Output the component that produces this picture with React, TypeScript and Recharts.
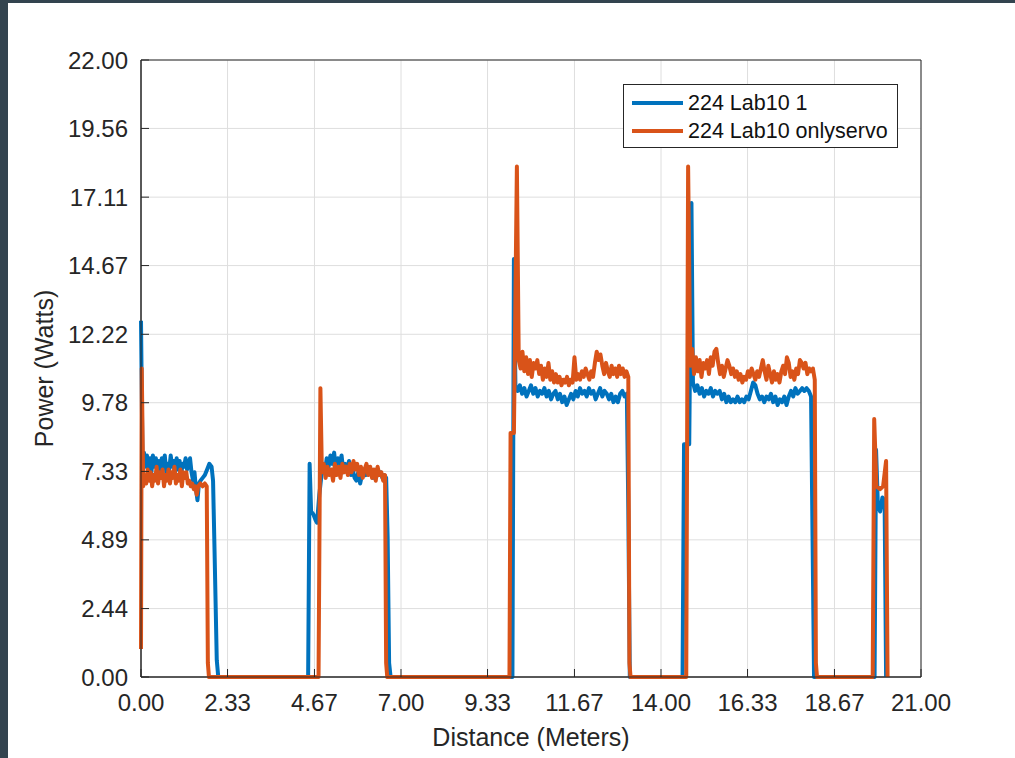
import { LineChart, Line, XAxis, YAxis, CartesianGrid, Legend, ReferenceArea } from 'recharts';

// distance (m) / power (W) samples
const blueDist = [
  0, 0.04, 0.08, 0.12, 0.16, 0.2, 0.24, 0.28, 0.32, 0.36, 0.4, 0.44, 0.48, 0.52, 0.56, 0.6, 0.64, 0.68, 0.72, 0.76,
  0.8, 0.84, 0.88, 0.92, 0.96, 1.0, 1.04, 1.08, 1.12, 1.16, 1.2, 1.24, 1.28, 1.32, 1.36, 1.4, 1.44, 1.48, 1.52, 1.56,
  1.6, 1.66, 1.72, 1.78, 1.84, 1.9, 1.94, 1.98, 2.04, 2.08,
  4.5, 4.54, 4.58, 4.64, 4.7, 4.74, 4.8, 4.86, 4.9, 4.95, 5.0, 5.05, 5.1, 5.15, 5.2, 5.25, 5.3, 5.35, 5.4, 5.45,
  5.5, 5.55, 5.6, 5.65, 5.7, 5.75, 5.8, 5.85, 5.9, 5.95, 6.0, 6.05, 6.1, 6.15, 6.2, 6.25, 6.3, 6.35, 6.4, 6.45,
  6.5, 6.55, 6.6, 6.64, 6.68, 6.72,
  10.0, 10.04, 10.08, 10.14, 10.2, 10.26, 10.32, 10.38, 10.44, 10.5, 10.56, 10.62, 10.68, 10.74, 10.8, 10.86, 10.92,
  10.98, 11.04, 11.1, 11.16, 11.22, 11.28, 11.34, 11.4, 11.46, 11.52, 11.58, 11.64, 11.7, 11.76, 11.82, 11.88, 11.94,
  12.0, 12.06, 12.12, 12.18, 12.24, 12.3, 12.36, 12.42, 12.48, 12.54, 12.6, 12.66, 12.72, 12.78, 12.84, 12.9, 12.96,
  13.02, 13.08, 13.12, 13.16,
  14.58, 14.62, 14.76, 14.82, 14.86, 14.92, 14.98, 15.04, 15.1, 15.16, 15.22, 15.28, 15.34, 15.4, 15.46, 15.52, 15.58,
  15.64, 15.7, 15.76, 15.82, 15.88, 15.94, 16.0, 16.06, 16.12, 16.18, 16.24, 16.3, 16.36, 16.42, 16.48, 16.54, 16.6,
  16.66, 16.72, 16.78, 16.84, 16.9, 16.96, 17.02, 17.08, 17.14, 17.2, 17.26, 17.32, 17.38, 17.44, 17.5, 17.56, 17.62,
  17.68, 17.74, 17.8, 17.86, 17.92, 17.98, 18.04, 18.08, 18.12,
  19.75, 19.79, 19.84, 19.9, 19.96, 20.02, 20.06,
];
const bluePower = [
  12.7, 7.7, 8.0, 7.5, 7.9, 7.4, 7.8, 7.3, 7.9, 7.5, 7.8, 7.4, 7.7, 7.2, 7.8, 7.5, 7.9, 7.3, 7.6, 7.4,
  7.9, 7.5, 7.7, 7.3, 7.8, 7.4, 7.7, 7.2, 7.6, 7.5, 7.8, 7.4, 7.6, 7.8, 7.3, 7.0, 7.3, 6.7, 6.3, 6.9,
  7.0, 7.1, 7.2, 7.4, 7.6, 7.5, 7.0, 4.5, 0.6, 0,
  0, 7.6, 5.9, 5.8, 5.6, 5.5, 6.5, 7.2, 7.6, 7.3, 7.8, 7.5, 7.9, 7.6, 8.0, 7.4, 7.8, 7.5, 7.9, 7.3,
  7.6, 7.4, 7.7, 7.2, 7.4, 7.1, 7.0, 7.3, 6.9, 7.2, 7.4, 7.2, 7.5, 7.3, 7.4, 7.1, 7.3, 7.4, 7.2, 7.3,
  7.1, 7.2, 7.1, 5.0, 0.5, 0,
  0, 14.9, 10.4, 10.2, 10.4, 10.1, 10.3, 10.0, 10.2, 10.4, 10.1, 10.3, 10.0, 10.2, 10.1, 10.3, 10.0,
  10.2, 9.9, 10.1, 10.2, 9.9, 10.1, 9.8, 10.0, 9.7, 9.9, 10.1, 9.9, 10.2, 10.0, 10.3, 10.1, 10.2,
  10.0, 10.3, 10.1, 10.2, 9.9, 10.1, 10.3, 10.0, 10.2, 10.1, 9.9, 10.1, 9.8, 10.0, 9.8, 10.1, 10.2,
  10.0, 10.1, 6.0, 0,
  0, 8.3, 8.3, 16.9, 10.5, 10.2, 10.4, 10.1, 10.3, 10.0, 10.2, 10.1, 10.3, 10.0, 10.2, 10.1, 10.2,
  9.9, 10.1, 9.8, 10.0, 9.8, 9.9, 9.8, 10.0, 9.8, 9.9, 9.8, 10.0, 9.9, 10.2, 10.5, 10.4, 10.1,
  9.9, 10.0, 9.8, 10.0, 9.9, 10.1, 9.8, 10.0, 9.7, 9.9, 9.8, 10.0, 9.7, 10.0, 10.2, 10.0, 10.3,
  10.1, 10.2, 10.3, 10.2, 10.3, 10.2, 10.0, 5.0, 0,
  0, 8.1, 6.1, 5.9, 6.4, 6.3, 0,
];

const orangeDist = [
  0, 0.02, 0.06, 0.1, 0.14, 0.18, 0.22, 0.26, 0.3, 0.34, 0.38, 0.42, 0.46, 0.5, 0.54, 0.58, 0.62, 0.66, 0.7, 0.74,
  0.78, 0.82, 0.86, 0.9, 0.94, 0.98, 1.02, 1.06, 1.1, 1.14, 1.18, 1.22, 1.26, 1.3, 1.34, 1.38, 1.42, 1.46, 1.5, 1.54,
  1.6, 1.66, 1.72, 1.77, 1.8, 1.83,
  4.78, 4.83, 4.87, 4.92, 4.97, 5.02, 5.07, 5.12, 5.17, 5.22, 5.27, 5.32, 5.37, 5.42, 5.47, 5.52, 5.57, 5.62, 5.67,
  5.72, 5.77, 5.82, 5.87, 5.92, 5.97, 6.02, 6.07, 6.12, 6.17, 6.22, 6.27, 6.32, 6.37, 6.42, 6.47, 6.52, 6.57, 6.6, 6.63,
  9.92, 9.95, 10.04, 10.12, 10.17, 10.22, 10.27, 10.32, 10.37, 10.42, 10.47, 10.52, 10.57, 10.62, 10.67, 10.72, 10.77,
  10.82, 10.87, 10.92, 10.97, 11.02, 11.07, 11.12, 11.17, 11.22, 11.27, 11.32, 11.37, 11.42, 11.47, 11.52, 11.57,
  11.62, 11.67, 11.72, 11.77, 11.82, 11.87, 11.92, 11.97, 12.02, 12.07, 12.12, 12.17, 12.22, 12.27, 12.32, 12.37,
  12.42, 12.47, 12.52, 12.57, 12.62, 12.67, 12.72, 12.77, 12.82, 12.87, 12.92, 12.97, 13.02, 13.07, 13.12, 13.15, 13.18,
  14.68, 14.73, 14.79, 14.84, 14.89, 14.94, 14.99, 15.04, 15.09, 15.14, 15.19, 15.24, 15.29, 15.34, 15.39, 15.44,
  15.49, 15.54, 15.59, 15.64, 15.69, 15.74, 15.79, 15.84, 15.89, 15.94, 15.99, 16.04, 16.09, 16.14, 16.19, 16.24,
  16.29, 16.34, 16.39, 16.44, 16.49, 16.54, 16.59, 16.64, 16.69, 16.74, 16.79, 16.84, 16.89, 16.94, 16.99, 17.04,
  17.09, 17.14, 17.19, 17.24, 17.29, 17.34, 17.39, 17.44, 17.49, 17.54, 17.59, 17.64, 17.69, 17.74, 17.79, 17.84,
  17.89, 17.94, 17.99, 18.04, 18.09, 18.14, 18.17, 18.2,
  19.7, 19.74, 19.8, 19.9, 19.98, 20.06, 20.1,
];
const orangePower = [
  1.0, 11.0, 6.8, 7.2, 6.9, 7.4, 7.0, 7.3, 6.8, 7.2, 7.0, 7.5, 6.9, 7.3, 7.1, 7.4, 6.8, 7.2, 7.0, 7.4,
  6.9, 7.3, 7.1, 7.5, 6.9, 7.2, 7.0, 7.4, 6.8, 7.3, 7.1, 7.3, 6.9, 7.0, 6.8, 6.9, 6.7, 6.8, 6.5, 6.8,
  6.9, 6.8, 6.9, 6.8, 0.5, 0,
  0, 10.3, 7.3, 7.6, 7.1, 7.5, 7.2, 7.4, 7.0, 7.6, 7.2, 7.5, 7.1, 7.6, 7.3, 7.5, 7.2, 7.6, 7.3,
  7.7, 7.4, 7.6, 7.2, 7.5, 7.1, 7.4, 7.6, 7.2, 7.5, 7.1, 7.4, 7.0, 7.5, 7.2, 7.3, 7.0, 7.2, 0.5, 0,
  0, 8.7, 8.7, 18.2, 11.3, 11.0, 11.6, 10.9, 11.4, 10.8, 11.3, 10.7, 11.2, 11.0, 11.3, 10.8, 11.1,
  10.6, 11.0, 10.7, 11.2, 10.6, 10.9, 10.5, 10.8, 10.5, 10.7, 10.4, 10.6, 10.5, 10.7, 10.4, 10.6,
  10.5, 11.4, 10.6, 10.8, 10.6, 10.9, 10.7, 11.0, 10.8, 10.6, 10.9, 10.7, 11.2, 11.6, 11.3, 11.5,
  11.1, 10.8, 11.2, 10.9, 10.7, 11.1, 10.8, 11.0, 10.7, 11.1, 10.8, 11.0, 10.7, 10.9, 10.7, 0.5, 0,
  0, 18.2, 11.1, 11.7, 10.8, 11.4, 10.9, 11.3, 10.7, 11.2, 11.0, 11.3, 10.8, 11.4, 11.1, 11.6,
  11.7, 11.2, 10.8, 11.1, 10.7, 11.0, 11.3, 11.1, 10.8, 11.0, 10.7, 10.9, 10.6, 10.8, 10.5, 10.7,
  10.6, 10.9, 10.7, 11.0, 10.8, 10.6, 10.9, 10.7, 11.0, 11.3, 10.9, 10.6, 11.1, 10.8, 10.5, 10.9,
  10.6, 10.8, 10.5, 10.9, 11.1, 10.8, 11.4, 11.2, 10.7, 10.9, 10.6, 11.0, 10.8, 11.3, 11.2, 11.0,
  11.2, 10.8, 11.0, 10.9, 11.0, 10.6, 0.5, 0,
  0, 9.2, 6.8, 6.7, 6.8, 7.7, 0,
];

const xTicks = [0, 2.33, 4.67, 7, 9.33, 11.67, 14, 16.33, 18.67, 21];
const yTicks = [0, 2.44, 4.89, 7.33, 9.78, 12.22, 14.67, 17.11, 19.56, 22];
const xDomain = [0, 21];
const yDomain = [0, 22];

const blueData = blueDist.map((d, i) => ({ d, p: bluePower[i] }));
const orangeData = orangeDist.map((d, i) => ({ d, p: orangePower[i] }));

const FONT = '"Liberation Sans", Arial, Helvetica, sans-serif';
const INK = '#262626';
const TICK_LEN = 8;

const BottomTick = ({ x, y, payload }: any) => (
  <g>
    <line x1={x} y1={y} x2={x} y2={y - TICK_LEN} stroke={INK} />
    <text x={x} y={y + 34} textAnchor="middle" fill={INK} fontSize={24} fontFamily={FONT}>
      {Number(payload.value).toFixed(2)}
    </text>
  </g>
);

const LeftTick = ({ x, y, payload }: any) => (
  <g>
    <line x1={x} y1={y} x2={x + TICK_LEN} y2={y} stroke={INK} />
    <text x={x - 13} y={y + 8.5} textAnchor="end" fill={INK} fontSize={24} fontFamily={FONT}>
      {Number(payload.value).toFixed(2)}
    </text>
  </g>
);

const TopTick = ({ x, y }: any) => <line x1={x} y1={y} x2={x} y2={y + TICK_LEN} stroke={INK} />;
const RightTick = ({ x, y }: any) => <line x1={x} y1={y} x2={x - TICK_LEN} y2={y} stroke={INK} />;

const LegendBox = ({ payload }: any) => (
  <div
    style={{
      border: `1px solid ${INK}`,
      background: '#fff',
      padding: '4px 0 4px 8px',
      fontFamily: FONT,
      fontSize: 21.5,
      color: '#111',
      lineHeight: '28px',
      boxSizing: 'border-box',
      height: 64,
    }}
  >
    {(payload || []).map((item: any) => (
      <div key={item.value} style={{ display: 'flex', alignItems: 'center', whiteSpace: 'nowrap' }}>
        <span style={{ display: 'inline-block', width: 51, height: 4, background: item.color, marginRight: 5, flex: 'none' }} />
        <span>{item.value}</span>
      </div>
    ))}
  </div>
);

export default function App() {
  return (
    <div style={{ position: 'absolute', left: 0, top: 0, width: 1015, height: 758, background: '#33444f' }}>
      <div style={{ position: 'absolute', left: 8, top: 3, width: 1007, height: 755, background: '#fff' }} />
      <div style={{ position: 'absolute', left: 0, top: 0 }}>
        <LineChart width={1015} height={758} margin={{ top: 60, right: 94, bottom: 12, left: 41 }}>
          <CartesianGrid stroke="#dedede" strokeWidth={1} />
          <XAxis
            dataKey="d"
            type="number"
            domain={xDomain}
            ticks={xTicks}
            interval={0}
            height={69}
            tickSize={0}
            tickMargin={0}
            tickLine={false}
            tick={BottomTick}
            axisLine={{ stroke: INK }}
            label={{ value: 'Distance (Meters)', position: 'insideBottom', offset: 0, fill: INK, fontSize: 25, fontFamily: FONT }}
          />
          <XAxis
            xAxisId="top"
            orientation="top"
            type="number"
            domain={xDomain}
            ticks={xTicks}
            interval={0}
            height={0}
            tickSize={0}
            tickMargin={0}
            tickLine={false}
            tick={TopTick}
            axisLine={{ stroke: INK }}
          />
          <YAxis
            type="number"
            domain={yDomain}
            ticks={yTicks}
            interval={0}
            width={100}
            tickSize={0}
            tickMargin={0}
            tickLine={false}
            tick={LeftTick}
            axisLine={{ stroke: INK }}
            label={{
              value: 'Power (Watts)',
              angle: -90,
              position: 'insideLeft',
              offset: 3,
              fill: INK,
              fontSize: 25,
              fontFamily: FONT,
              style: { textAnchor: 'middle' },
            }}
          />
          <YAxis
            yAxisId="right"
            orientation="right"
            type="number"
            domain={yDomain}
            ticks={yTicks}
            interval={0}
            width={0}
            tickSize={0}
            tickMargin={0}
            tickLine={false}
            tick={RightTick}
            axisLine={{ stroke: INK }}
          />
          <ReferenceArea
            x1={xDomain[0]}
            x2={xDomain[1]}
            y1={yDomain[0]}
            y2={yDomain[1]}
            fill="none"
            fillOpacity={0}
            stroke={INK}
            strokeWidth={1}
          />
          <Legend
            layout="vertical"
            align="center"
            verticalAlign="middle"
            content={LegendBox}
            wrapperStyle={{ left: 623, top: 84, width: 275 }}
          />
          <Line
            data={blueData}
            dataKey="p"
            name="224 Lab10 1"
            type="linear"
            stroke="#0072BD"
            strokeWidth={4}
            strokeLinejoin="round"
            dot={false}
            activeDot={false}
            isAnimationActive={false}
          />
          <Line
            data={orangeData}
            dataKey="p"
            name="224 Lab10 onlyservo"
            type="linear"
            stroke="#D95319"
            strokeWidth={4}
            strokeLinejoin="round"
            dot={false}
            activeDot={false}
            isAnimationActive={false}
          />
        </LineChart>
      </div>
    </div>
  );
}
